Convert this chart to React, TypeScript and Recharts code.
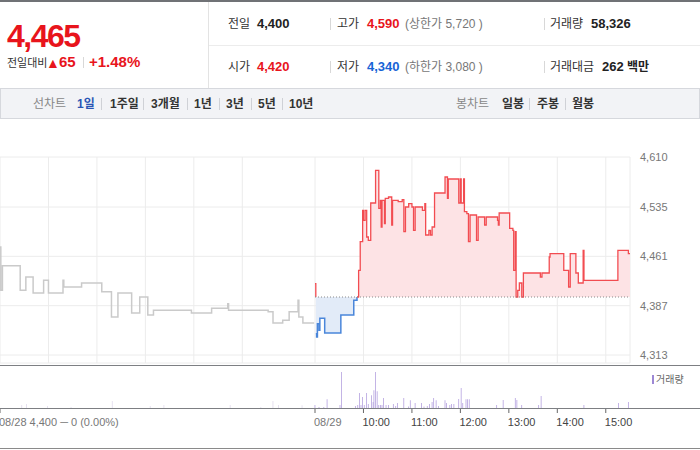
import React from 'react';
import { ComposedChart, BarChart, Area, Line, Bar, Cell, XAxis, YAxis, CartesianGrid, ReferenceLine } from 'recharts';

const BASE = 4400;
const SESSION = 390; // minutes in one session, 09:00 - 15:30

// 08/28 session: minutes after 09:00, price
const prevMinutes = [0, 1, 3, 25, 32, 41, 54, 60, 78, 79, 101, 126, 138, 146, 163, 173, 183, 190, 237, 262, 282, 283, 332, 338, 350, 358, 369, 370, 375, 389];
const prevPrices = [4475, 4410, 4447, 4410, 4430, 4406, 4425, 4406, 4425, 4415, 4421, 4408, 4370, 4406, 4376, 4400, 4373, 4380, 4376, 4383, 4390, 4380, 4378, 4361, 4365, 4378, 4395, 4370, 4361, 4361];

// 08/29 session
const todayMinutes = [0, 1, 2, 3, 5, 6, 12, 32, 48, 52, 54, 56, 59, 60, 62, 64, 66, 69, 75, 79, 81, 82, 83, 86, 87, 91, 95, 96, 103, 108, 110, 112, 116, 120, 122, 124, 133, 136, 137, 141, 143, 145, 148, 161, 164, 165, 178, 180, 181, 184, 185, 188, 190, 192, 200, 202, 210, 212, 226, 227, 228, 241, 245, 246, 248, 249, 251, 253, 256, 258, 279, 281, 290, 291, 308, 314, 316, 323, 326, 332, 333, 375, 388, 390];
const todayPrices = [4420, 4345, 4340, 4360, 4350, 4368, 4346, 4373, 4395, 4400, 4440, 4483, 4530, 4515, 4530, 4490, 4485, 4541, 4590, 4533, 4545, 4505, 4545, 4510, 4548, 4550, 4508, 4545, 4543, 4546, 4498, 4535, 4540, 4535, 4500, 4535, 4530, 4540, 4493, 4500, 4493, 4505, 4556, 4580, 4548, 4577, 4541, 4577, 4541, 4577, 4528, 4525, 4483, 4523, 4485, 4520, 4508, 4520, 4515, 4508, 4526, 4503, 4500, 4440, 4498, 4400, 4410, 4421, 4400, 4436, 4430, 4436, 4460, 4465, 4440, 4415, 4465, 4436, 4421, 4470, 4425, 4470, 4465, 4465];

// volume per minute
const prevVolMinutes = [27, 33, 59, 88, 139, 186, 203, 285, 323, 338, 345, 374];
const prevVolumes = [300, 400, 200, 100, 700, 200, 300, 300, 100, 700, 300, 270];
const todayVolMinutes = [0, 5, 11, 15, 31, 33, 50, 53, 55, 57, 59, 61, 64, 66, 70, 72, 73, 75, 77, 79, 81, 83, 85, 88, 91, 97, 100, 102, 110, 116, 118, 124, 132, 135, 139, 142, 145, 147, 150, 153, 161, 163, 167, 169, 172, 178, 181, 183, 187, 189, 191, 225, 233, 248, 250, 256, 277, 280, 333, 376, 388];
const todayVolumes = [300, 100, 100, 870, 300, 3600, 200, 300, 1500, 300, 1100, 300, 1500, 400, 1270, 600, 1770, 3600, 1670, 300, 300, 300, 1000, 300, 300, 400, 200, 500, 1000, 150, 770, 500, 500, 150, 200, 400, 600, 1000, 770, 200, 770, 500, 300, 400, 400, 900, 2000, 500, 870, 870, 870, 300, 800, 1000, 800, 300, 300, 1200, 300, 500, 600];

const priceTicks = [4313, 4387, 4461, 4535, 4610];
const gridTicks = [0, 60, 120, 180, 240, 300, 360, 390, 450, 510, 570, 630, 690, 750];
const axisTicks = [0, 390, 450, 510, 570, 630, 690, 750];
const axisLabels = ['08/28  4,400 ─ 0 (0.00%)', '08/29', '10:00', '11:00', '12:00', '13:00', '14:00', '15:00'];

const RED = '#e8141c';
const BLUE = '#1764d6';

const priceRows = [
  ...prevMinutes.map((m, i) => ({ t: m, prev: prevPrices[i] })),
  ...todayMinutes.map((m, i) => {
    const p = todayPrices[i];
    const before = i > 0 ? todayPrices[i - 1] : p;
    return {
      t: SESSION + m,
      up: p >= BASE || before >= BASE ? Math.max(p, BASE) : null,
      down: p < BASE || before < BASE ? Math.min(p, BASE) : null,
    };
  }),
];

const volRows = [
  ...prevVolMinutes.map((m, i) => ({ t: m, v: prevVolumes[i], today: false })),
  ...todayVolMinutes.map((m, i) => ({ t: SESSION + m, v: todayVolumes[i], today: true })),
];

const FONT = '"Liberation Sans", Arial, "Noto Sans CJK KR", sans-serif';

// text placed by its baseline
const T = ({ x, y, size, color = '#333', bold = false, spacing = 0, children }: any) => (
  <div
    style={{
      position: 'absolute',
      left: x,
      top: y - size * 0.85,
      fontSize: size,
      lineHeight: `${size}px`,
      color,
      fontWeight: bold ? 700 : 400,
      letterSpacing: spacing,
      whiteSpace: 'nowrap',
    }}
  >
    {children}
  </div>
);

const Sep = ({ x, y, h, color = '#d8d8d8' }: any) => (
  <div style={{ position: 'absolute', left: x, top: y, width: 1, height: h, background: color }} />
);

const TimeTick = (props: any) => {
  const { x, y, payload } = props;
  const i = axisTicks.indexOf(payload.value);
  return (
    <text x={x - 1} y={y + 3} dy="0.71em" textAnchor="start" fontSize={11} fill={i < 2 ? '#777' : '#444'} fontFamily={FONT}>
      {axisLabels[i]}
    </text>
  );
};

const App = () => {
  return (
    <div style={{ position: 'absolute', left: 0, top: 0, width: 700, height: 450, background: '#fff', fontFamily: FONT, overflow: 'hidden' }}>
      {/* header */}
      <div style={{ position: 'absolute', left: 0, top: 0, width: 700, height: 2, background: '#707276' }} />
      <T x={7} y={47} size={32} color={RED} bold spacing={-1.5}>4,465</T>
      <T x={7} y={67} size={11}>전일대비</T>
      <T x={46} y={67.5} size={14} color={RED}>▲</T>
      <T x={59} y={67} size={15} color={RED} bold>65</T>
      <Sep x={83} y={57} h={11} />
      <T x={89} y={67} size={15} color={RED} bold>+1.48%</T>

      <div style={{ position: 'absolute', left: 208, top: 2, width: 1, height: 86, background: '#e3e3e3' }} />
      <div style={{ position: 'absolute', left: 209, top: 45, width: 491, height: 1, background: '#ececec' }} />

      <T x={228} y={28.5} size={12}>전일</T>
      <T x={257} y={28.5} size={13} color="#222" bold>4,400</T>
      <Sep x={330} y={18} h={12} />
      <T x={337} y={28.5} size={12}>고가</T>
      <T x={367} y={28.5} size={13} color={RED} bold>4,590</T>
      <T x={405} y={28.5} size={12} color="#777">(상한가 5,720 )</T>
      <Sep x={544} y={18} h={12} />
      <T x={550} y={28.5} size={12}>거래량</T>
      <T x={591} y={28.5} size={13} color="#222" bold>58,326</T>

      <T x={228} y={71.5} size={12}>시가</T>
      <T x={257} y={71.5} size={13} color={RED} bold>4,420</T>
      <Sep x={330} y={61} h={12} />
      <T x={337} y={71.5} size={12}>저가</T>
      <T x={367} y={71.5} size={13} color={BLUE} bold>4,340</T>
      <T x={405} y={71.5} size={12} color="#777">(하한가 3,080 )</T>
      <Sep x={544} y={61} h={12} />
      <T x={550} y={71.5} size={12}>거래대금</T>
      <T x={602} y={71.5} size={13} color="#222" bold>262</T>
      <T x={627} y={71.5} size={12} color="#222" bold>백만</T>

      {/* tab bar */}
      <div style={{ position: 'absolute', left: 0, top: 88, width: 698, height: 29, background: '#f2f3f6', border: '1px solid #d6d8dd' }} />
      <T x={33} y={108.5} size={12} color="#888">선차트</T>
      <T x={77} y={108.5} size={12} color="#2a55b5" bold>1일</T>
      <Sep x={101} y={98} h={12} color="#cfd1d6" />
      <T x={110} y={108.5} size={12} color="#333" bold>1주일</T>
      <Sep x={143} y={98} h={12} color="#cfd1d6" />
      <T x={151} y={108.5} size={12} color="#333" bold>3개월</T>
      <Sep x={187} y={98} h={12} color="#cfd1d6" />
      <T x={194} y={108.5} size={12} color="#333" bold>1년</T>
      <Sep x={219} y={98} h={12} color="#cfd1d6" />
      <T x={226} y={108.5} size={12} color="#333" bold>3년</T>
      <Sep x={251} y={98} h={12} color="#cfd1d6" />
      <T x={258} y={108.5} size={12} color="#333" bold>5년</T>
      <Sep x={282} y={98} h={12} color="#cfd1d6" />
      <T x={289} y={108.5} size={12} color="#333" bold>10년</T>
      <T x={456} y={108.5} size={12} color="#888">봉차트</T>
      <T x={502} y={108.5} size={12} color="#333" bold>일봉</T>
      <Sep x={529} y={98} h={12} color="#cfd1d6" />
      <T x={537} y={108.5} size={12} color="#333" bold>주봉</T>
      <Sep x={565} y={98} h={12} color="#cfd1d6" />
      <T x={572} y={108.5} size={12} color="#333" bold>월봉</T>

      {/* price chart */}
      <div style={{ position: 'absolute', left: 0, top: 119 }}>
        <ComposedChart width={700} height={246} data={priceRows} margin={{ top: 38, right: 0, bottom: 2, left: 0 }}>
          <CartesianGrid stroke="#ececec" />
          <XAxis dataKey="t" type="number" domain={[0, SESSION * 2]} ticks={gridTicks} hide />
          <YAxis
            orientation="right"
            domain={[4301, 4610]}
            ticks={priceTicks}
            width={70}
            axisLine={false}
            tickLine={false}
            tickMargin={4}
            tick={{ fill: '#777', fontSize: 11, fontFamily: FONT, textAnchor: 'start' }}
            tickFormatter={(v: number) => v.toLocaleString('en-US')}
          />
          <Line dataKey="prev" type="stepAfter" stroke="#cacaca" strokeWidth={1.5} dot={false} isAnimationActive={false} />
          <Area dataKey="down" type="stepAfter" baseValue={BASE} stroke="#4a86da" strokeWidth={1.5} fill="#e2ebf8" fillOpacity={1} dot={false} isAnimationActive={false} />
          <Area dataKey="up" type="stepAfter" baseValue={BASE} stroke="#f24c51" strokeWidth={1.3} fill="#fde3e5" fillOpacity={1} dot={false} isAnimationActive={false} />
          <ReferenceLine segment={[{ x: SESSION, y: BASE }, { x: SESSION * 2, y: BASE }]} stroke="#8a8a8a" strokeDasharray="1 2" />
        </ComposedChart>
      </div>

      {/* volume */}
      <div style={{ position: 'absolute', left: 0, top: 365, width: 700, height: 1, background: '#7d7f83' }} />
      <div style={{ position: 'absolute', left: 652, top: 375, width: 2, height: 9, background: '#9d88d4' }} />
      <T x={656} y={383} size={10} color="#666">거래량</T>
      <div style={{ position: 'absolute', left: 0, top: 365 }}>
        <BarChart width={700} height={84} data={volRows} margin={{ top: 5, right: 70, bottom: 0, left: 0 }} barSize={2}>
          <XAxis
            dataKey="t"
            type="number"
            domain={[0, SESSION * 2]}
            ticks={axisTicks}
            interval={0}
            tick={<TimeTick />}
            tickSize={5}
            tickLine={{ stroke: '#666' }}
            axisLine={false}
            height={41}
          />
          <YAxis hide domain={[0, 3800]} />
          <Bar dataKey="v" isAnimationActive={false}>
            {volRows.map((r, i) => (
              <Cell key={i} fill={r.today ? '#ad98dc' : '#ddd6ea'} />
            ))}
          </Bar>
        </BarChart>
      </div>
      <div style={{ position: 'absolute', left: 0, top: 408, width: 700, height: 1, background: '#7d7f83' }} />
      <div style={{ position: 'absolute', left: 0, top: 448, width: 700, height: 1, background: '#8a8a8a' }} />
    </div>
  );
};

export default App;
